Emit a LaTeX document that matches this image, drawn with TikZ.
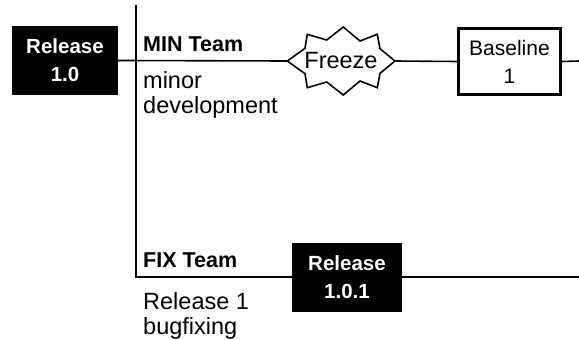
\documentclass[tikz,border=0pt]{standalone}
\usepackage{fontspec}
\setmainfont{Liberation Sans}
\usetikzlibrary{calc}
\begin{document}
\begin{tikzpicture}[x=1pt,y=-1pt,
  relbox/.style={fill=black, text=white, font=\fontsize{20.5}{28}\selectfont\bfseries, align=center, inner sep=0pt, minimum width=#1, minimum height=69pt},
  basebox/.style={draw=black, line width=3pt, font=\fontsize{21}{28}\selectfont, align=center, inner sep=0pt, minimum width=102pt, minimum height=66pt},
  teamlabel/.style={font=\fontsize{21.5}{25}\selectfont\bfseries, anchor=base west, inner sep=0pt},
  desc/.style={font=\fontsize{23.5}{24.5}\selectfont, anchor=base west, align=left, inner sep=0pt},
  conn/.style={line width=1.6pt}]
\useasboundingbox (0,0) rectangle (579,340);
% nodes
\node[relbox=106pt] (rel10) at (65,60.5) {Release\\1.0};
\node[font=\fontsize{23.5}{25}\selectfont, inner sep=0pt] (freeze) at (341,61) {Freeze};
\node[basebox] (base1) at (509.5,61.5) {Baseline\\1};
\node[relbox=110pt] (rel101) at (347,277) {Release\\1.0.1};
\node[teamlabel] (minteam) at (143,52) {MIN Team};
\node[desc] (mindesc) at (143,113) {minor\\development};
\node[teamlabel] (fixteam) at (143,267) {FIX Team};
\node[desc] (fixdesc) at (143,334) {Release 1\\bugfixing};
% coordinates
\coordinate (fzL) at ($(freeze.center)+(-53.7,0)$);
\coordinate (fzR) at ($(freeze.center)+(54,0)$);
\coordinate (minend) at (579,61);
\coordinate (vtop) at (136,5);
\coordinate (vcorner) at (136,277);
\coordinate (fixend) at (579,277);
% freeze starburst
\draw[conn, line join=miter, shift={(freeze.center)}]
  (-53.7,0) -- (-36,-12.7) -- (-33.7,-26.7) -- (-14.3,-21) -- (2.3,-34) -- (19,-20) -- (36.3,-26.7) -- (39,-12.3) -- (54,0)
  -- (39,12.3) -- (36.3,26.7) -- (19,20) -- (2.3,34) -- (-14.3,21) -- (-33.7,26.7) -- (-36,12.7) -- cycle;
% connectors
\draw[conn] (rel10.east) -- (fzL);
\draw[conn] (fzR) -- (base1.west);
\draw[conn] (base1.east) -- (minend);
\draw[conn] (vtop) -- (vcorner) -- (rel101.west);
\draw[conn] (rel101.east) -- (fixend);
\end{tikzpicture}
\end{document}
